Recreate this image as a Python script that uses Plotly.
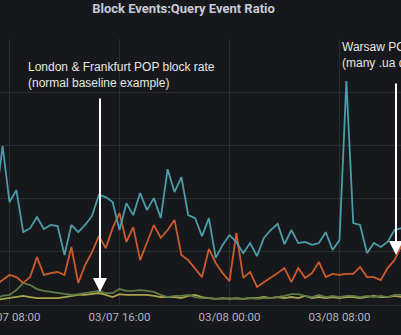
import pandas as pd
import plotly.graph_objects as go

# 30-minute samples, 2022-03-07 07:00 -> 2022-03-08 12:30
times = pd.date_range("2022-03-07 07:00", periods=60, freq="30min")

teal = [0.395, 0.598, 0.387, 0.432, 0.274, 0.289, 0.331, 0.286, 0.301, 0.297,
        0.188, 0.301, 0.274, 0.301, 0.335, 0.414, 0.406, 0.387, 0.282, 0.383,
        0.338, 0.421, 0.357, 0.402, 0.327, 0.511, 0.425, 0.481, 0.338, 0.327,
        0.259, 0.327, 0.177, 0.226, 0.263, 0.237, 0.195, 0.233, 0.184, 0.252,
        0.282, 0.305, 0.229, 0.282, 0.233, 0.237, 0.226, 0.233, 0.274, 0.207,
        0.244, 0.842, 0.308, 0.301, 0.195, 0.233, 0.218, 0.237, 0.282, 0.289]

orange = [0.075, 0.094, 0.113, 0.105, 0.083, 0.105, 0.180, 0.113, 0.120, 0.124,
          0.113, 0.218, 0.083, 0.150, 0.199, 0.259, 0.214, 0.289, 0.346, 0.237,
          0.293, 0.169, 0.233, 0.301, 0.252, 0.282, 0.320, 0.188, 0.169, 0.139,
          0.105, 0.211, 0.158, 0.120, 0.090, 0.271, 0.102, 0.124, 0.068, 0.086,
          0.102, 0.120, 0.139, 0.086, 0.139, 0.102, 0.120, 0.162, 0.105, 0.117,
          0.113, 0.117, 0.117, 0.143, 0.105, 0.105, 0.094, 0.139, 0.169, 0.222]

green = [0.026, 0.034, 0.038, 0.056, 0.083, 0.075, 0.060, 0.053, 0.049, 0.045,
         0.041, 0.038, 0.041, 0.045, 0.049, 0.053, 0.045, 0.045, 0.060, 0.053,
         0.053, 0.056, 0.053, 0.049, 0.038, 0.030, 0.034, 0.034, 0.038, 0.030,
         0.026, 0.026, 0.023, 0.023, 0.026, 0.023, 0.023, 0.026, 0.023, 0.026,
         0.026, 0.030, 0.034, 0.041, 0.041, 0.034, 0.030, 0.038, 0.030, 0.034,
         0.030, 0.034, 0.034, 0.030, 0.034, 0.030, 0.034, 0.030, 0.038, 0.038]

yellow = [0.019, 0.023, 0.026, 0.030, 0.034, 0.030, 0.026, 0.026, 0.026, 0.026,
          0.030, 0.034, 0.038, 0.038, 0.041, 0.045, 0.038, 0.030, 0.041, 0.038,
          0.038, 0.038, 0.038, 0.034, 0.030, 0.030, 0.030, 0.026, 0.034, 0.038,
          0.030, 0.026, 0.023, 0.026, 0.023, 0.026, 0.023, 0.026, 0.026, 0.030,
          0.026, 0.030, 0.026, 0.030, 0.026, 0.034, 0.026, 0.030, 0.026, 0.030,
          0.026, 0.030, 0.030, 0.026, 0.030, 0.034, 0.030, 0.030, 0.034, 0.030]

series = [
    ("yellow", yellow, "#a9a44b"),
    ("green", green, "#5e7c47"),
    ("orange", orange, "#cc5b2c"),
    ("teal", teal, "#4a9daa"),
]

title_text = "Block Events:Query Event Ratio"
note_left = "London & Frankfurt POP block rate<br>(normal baseline example)"
note_right = "Warsaw POP block rate<br>(many .ua domains blocked)"

BG = "#17181b"
GRID = "#2b2d31"

fig = go.Figure()
for name, vals, col in series:
    fig.add_trace(go.Scatter(x=times, y=vals, mode="lines", name=name,
                             line=dict(color=col, width=1.8), hoverinfo="skip"))

fig.update_layout(
    width=401, height=335,
    margin=dict(l=0, r=0, t=39, b=30, autoexpand=False),
    paper_bgcolor=BG, plot_bgcolor=BG,
    showlegend=False,
    title=dict(text="<b>" + title_text + "</b>", xref="container", yref="container",
               x=183.5 / 401, y=1 - 8 / 335, xanchor="center", yanchor="middle",
               font=dict(family="Roboto", size=13, color="#c9c9d6")),
    xaxis=dict(
        range=["2022-03-07 07:18:33", "2022-03-08 12:28:22"],
        tick0="2022-03-07 00:00", dtick=8 * 3600 * 1000, tickformat="%m/%d %H:%M",
        showgrid=True, gridcolor=GRID, gridwidth=1, zeroline=False, showline=False,
        ticks="outside", ticklen=1, tickcolor="rgba(0,0,0,0)",
        ticklabeloverflow="allow", automargin=False,
        tickfont=dict(family="Roboto", size=11.5, color="#b3b3bb"),
    ),
    yaxis=dict(
        range=[0, 1.0005], dtick=0.2, showgrid=True, gridcolor=GRID, gridwidth=1,
        zeroline=True, zerolinecolor=GRID, zerolinewidth=1,
        showticklabels=False, showline=False, automargin=False,
    ),
    annotations=[
        dict(text=note_left, xref="paper", yref="paper", x=26 / 401, y=(305 - 74.5) / 266,
             xanchor="left", yanchor="middle", align="left", showarrow=False,
             font=dict(family="Liberation Sans", size=12, color="#e6e6e6")),
        dict(text=note_right, xref="paper", yref="paper", x=340 / 401, y=(305 - 55) / 266,
             xanchor="left", yanchor="middle", align="left", showarrow=False,
             font=dict(family="Liberation Sans", size=12, color="#e6e6e6")),
        dict(text="", xref="paper", yref="paper", x=100 / 401, y=(305 - 292) / 266,
             ax=0, ay=-195, showarrow=True, arrowhead=2, arrowsize=1.4,
             arrowwidth=2, arrowcolor="#ffffff", standoff=0),
        dict(text="", xref="paper", yref="paper", x=396 / 401, y=(305 - 255) / 266,
             ax=0, ay=-173, showarrow=True, arrowhead=2, arrowsize=1.4,
             arrowwidth=2, arrowcolor="#ffffff", standoff=0),
    ],
)

fig.write_html("out.html")
